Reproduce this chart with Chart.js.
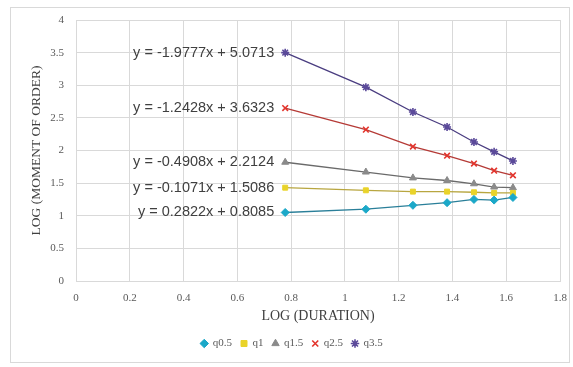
<!DOCTYPE html>
<html>
<head>
<meta charset="utf-8">
<script src="https://cdn.jsdelivr.net/npm/chart.js@4"></script>
<style>
  html, body { margin: 0; padding: 0; background: #fff; }
  #wrap { width: 573px; height: 367px; }
</style>
</head>
<body>
<div id="wrap"><canvas id="chart" width="573" height="367"></canvas></div>
<script>
// log(duration) on the x axis
const logDuration = [0.778, 1.078, 1.253, 1.380, 1.480, 1.555, 1.625];

// log(moment of order) per q
const q05 = [1.05, 1.10, 1.16, 1.20, 1.25, 1.24, 1.28];
const q1  = [1.43, 1.39, 1.37, 1.37, 1.36, 1.35, 1.35];
const q15 = [1.82, 1.67, 1.58, 1.54, 1.49, 1.44, 1.43];
const q25 = [2.65, 2.32, 2.06, 1.92, 1.80, 1.69, 1.62];
const q35 = [3.50, 2.97, 2.59, 2.36, 2.13, 1.98, 1.84];

const seriesNames = ["q0.5", "q1", "q1.5", "q2.5", "q3.5"];
const equations = [
  "y = 0.2822x + 0.8085",
  "y = -0.1071x + 1.5086",
  "y = -0.4908x + 2.2124",
  "y = -1.2428x + 3.6323",
  "y = -1.9777x + 5.0713"
];
const yTicks = [0, 0.5, 1, 1.5, 2, 2.5, 3, 3.5, 4];

const pointColors = ["#1ba8c8", "#e9d32a", "#8a8a8a", "#e3342c", "#5b4a9a"];
const lineColors  = ["#2a7f99", "#b8a640", "#6a6a6a", "#b53a36", "#4a3d80"];
const markers     = ["rectRot", "rect", "triangle", "crossRot", "star"];

const allSeries = [q05, q1, q15, q25, q35];

const datasets = allSeries.map((vals, i) => ({
  label: seriesNames[i],
  data: vals.map((v, k) => ({ x: logDuration[k], y: v })),
  showLine: true,
  borderColor: lineColors[i],
  borderWidth: 1.3,
  pointStyle: markers[i],
  pointRadius: markers[i] === "rect" ? 3.5 : 4,
  pointBackgroundColor: pointColors[i],
  pointBorderColor: pointColors[i],
  pointBorderWidth: markers[i] === "crossRot" || markers[i] === "star" ? 1.6 : 1,
  fill: false
}));

// outer frame of the chart
const framePlugin = {
  id: "frame",
  beforeDraw(chart) {
    const c = chart.ctx;
    c.save();
    c.fillStyle = "#fff";
    c.fillRect(0, 0, chart.width, chart.height);
    c.strokeStyle = "#d9d9d9";
    c.lineWidth = 1;
    c.strokeRect(10.5, 7.5, 559, 355);
    c.restore();
  }
};

// trendline equations next to the first point of each series
const eqPlugin = {
  id: "eqLabels",
  afterDatasetsDraw(chart) {
    const c = chart.ctx;
    c.save();
    c.font = "14.5px 'Liberation Sans', Arial, sans-serif";
    c.fillStyle = "#404040";
    c.textAlign = "right";
    c.textBaseline = "middle";
    chart.data.datasets.forEach((ds, i) => {
      const p = chart.getDatasetMeta(i).data[0];
      c.fillText(equations[i], p.x - 11, p.y);
    });
    c.restore();
  }
};

const serif = "'Liberation Serif', serif";

new Chart(document.getElementById("chart"), {
  type: "scatter",
  data: { datasets },
  options: {
    responsive: false,
    animation: false,
    layout: { padding: { left: 24, right: 13, top: 20, bottom: 8 } },
    plugins: {
      legend: {
        position: "bottom",
        labels: {
          usePointStyle: true,
          boxWidth: 6,
          boxHeight: 6,
          padding: 9,
          color: "#595959",
          font: { family: serif, size: 11 }
        }
      },
      tooltip: { enabled: false }
    },
    scales: {
      x: {
        type: "linear",
        min: 0,
        max: 1.8,
        afterFit(s) { s.height = 48; s.paddingRight = 0; },
        ticks: {
          stepSize: 0.2,
          padding: 11,
          color: "#595959",
          font: { family: serif, size: 11 },
          callback: v => String(Math.round(v * 10) / 10)
        },
        grid: { color: "#d9d9d9", drawTicks: false },
        border: { color: "#d9d9d9" },
        title: {
          display: true,
          text: "LOG (DURATION)",
          color: "#404040",
          font: { family: serif, size: 14 },
          padding: { top: 0 }
        }
      },
      y: {
        min: 0,
        max: 4,
        afterFit(s) { s.width = 52; },
        afterBuildTicks(s) { s.ticks = yTicks.map(v => ({ value: v })); },
        ticks: {
          color: "#595959",
          padding: 12,
          font: { family: serif, size: 11 },
          callback: v => String(v)
        },
        grid: { color: "#d9d9d9", drawTicks: false },
        border: { color: "#d9d9d9" },
        title: {
          display: true,
          text: "LOG (MOMENT OF ORDER)",
          color: "#404040",
          font: { family: serif, size: 13.5 },
          padding: { bottom: 2 }
        }
      }
    }
  },
  plugins: [framePlugin, eqPlugin]
});
</script>
</body>
</html>
